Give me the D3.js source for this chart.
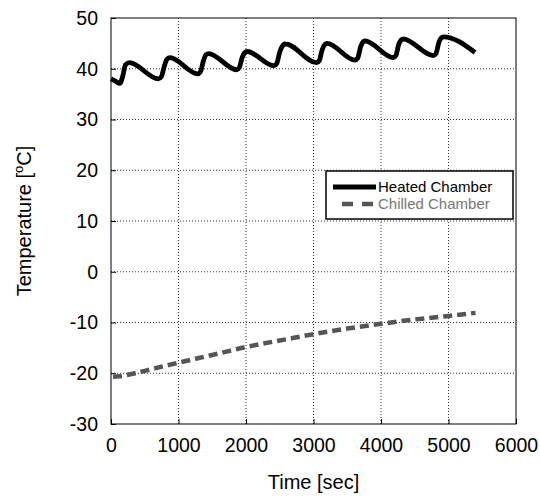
<!DOCTYPE html>
<html>
<head>
<meta charset="utf-8">
<script src="https://cdn.jsdelivr.net/npm/d3@7"></script>
<style>
  body { margin: 0; background: #fff; }
  svg { display: block; font-family: Arial, "Liberation Sans", sans-serif; }
</style>
</head>
<body>
<div id="chart"></div>
<script>
// time (sec) and temperature (°C)
const heatedTime = [0, 60, 130, 175, 215, 275, 700, 745, 790, 830, 874, 1284, 1325, 1370, 1410, 1445,
  1862, 1900, 1945, 1985, 2015, 2415, 2455, 2500, 2545, 2580, 3047, 3085, 3130, 3170, 3200,
  3615, 3655, 3700, 3735, 3760, 4183, 4220, 4265, 4300, 4325, 4775, 4815, 4860, 4895, 4925, 5393];
const heatedTemp = [38.0, 37.6, 37.1, 38.6, 40.8, 41.2, 38.0, 38.4, 40.5, 41.9, 42.2, 39.0, 39.4, 41.6, 42.8, 43.0,
  39.8, 40.2, 42.3, 43.2, 43.4, 40.6, 41.0, 43.3, 44.6, 44.9, 41.2, 41.6, 43.8, 44.8, 45.0,
  41.7, 42.1, 44.4, 45.3, 45.5, 42.2, 42.6, 44.9, 45.7, 45.9, 42.6, 43.0, 45.3, 46.1, 46.3, 43.2];

const chilledTime = [30, 120, 356, 600, 973, 1500, 2010, 2600, 3000, 3500, 4035, 4500, 5010, 5400];
const chilledTemp = [-20.7, -20.6, -20.0, -19.2, -18.0, -16.4, -14.8, -13.3, -12.3, -11.2, -10.2, -9.4, -8.7, -8.1];

const xTicks = [0, 1000, 2000, 3000, 4000, 5000, 6000];
const yTicks = [-30, -20, -10, 0, 10, 20, 30, 40, 50];

const seriesNames = ["Heated Chamber", "Chilled Chamber"];

const width = 540;
const height = 497;
const margin = { top: 18, right: 24, bottom: 73, left: 111 };

const svg = d3.select("#chart").append("svg")
  .attr("width", width)
  .attr("height", height);

const x = d3.scaleLinear().domain([0, 6000]).range([margin.left, width - margin.right]);
const y = d3.scaleLinear().domain([-30, 50]).range([height - margin.bottom, margin.top]);

// plain ascii labels, no thousands separator
const fmt = (d) => String(d);

// grid
const gGrid = svg.append("g");
gGrid.selectAll(".gx")
  .data(xTicks.slice(1, -1))
  .join("line")
  .attr("x1", (d) => x(d)).attr("x2", (d) => x(d))
  .attr("y1", y(-30)).attr("y2", y(50))
  .attr("stroke", "#333").attr("stroke-width", 1).attr("stroke-dasharray", "1,2");
gGrid.selectAll(".gy")
  .data(yTicks.slice(1, -1))
  .join("line")
  .attr("y1", (d) => y(d)).attr("y2", (d) => y(d))
  .attr("x1", x(0)).attr("x2", x(6000))
  .attr("stroke", "#333").attr("stroke-width", 1).attr("stroke-dasharray", "1,2");

// axes
svg.append("g")
  .attr("transform", `translate(0,${y(-30)})`)
  .call(d3.axisBottom(x).tickValues(xTicks).tickFormat(fmt).tickSize(-5).tickPadding(14))
  .call((g) => g.select(".domain").remove())
  .call((g) => g.selectAll("text").attr("font-size", 19.5).attr("font-family", null).attr("fill", "#000"));

svg.append("g")
  .attr("transform", `translate(${x(0)},0)`)
  .call(d3.axisLeft(y).tickValues(yTicks).tickFormat(fmt).tickSize(-5).tickPadding(13))
  .call((g) => g.select(".domain").remove())
  .call((g) => g.selectAll("text").attr("font-size", 19.5).attr("font-family", null).attr("fill", "#000"));

// frame
svg.append("rect")
  .attr("x", x(0)).attr("y", y(50))
  .attr("width", x(6000) - x(0)).attr("height", y(-30) - y(50))
  .attr("fill", "none").attr("stroke", "#000").attr("stroke-width", 1);

// lines
const line = d3.line()
  .x((d) => x(d[0]))
  .y((d) => y(d[1]))
  .curve(d3.curveMonotoneX);

svg.append("path")
  .datum(heatedTime.map((t, i) => [t, heatedTemp[i]]))
  .attr("fill", "none")
  .attr("stroke", "#000")
  .attr("stroke-width", 4.8)
  .attr("stroke-linejoin", "round")
  .attr("d", line);

svg.append("path")
  .datum(chilledTime.map((t, i) => [t, chilledTemp[i]]))
  .attr("fill", "none")
  .attr("stroke", "#555")
  .attr("stroke-width", 4.5)
  .attr("stroke-dasharray", "9,5")
  .attr("d", line);

// axis titles
svg.append("text")
  .attr("x", (x(0) + x(6000)) / 2)
  .attr("y", 489)
  .attr("text-anchor", "middle")
  .attr("font-size", 20)
  .text("Time [sec]");

const yTitle = svg.append("text")
  .attr("transform", `translate(31,${(y(50) + y(-30)) / 2}) rotate(-90)`)
  .attr("text-anchor", "middle")
  .attr("font-size", 20);
yTitle.append("tspan").text("Temperature [");
yTitle.append("tspan").attr("font-size", 13).attr("dy", "-0.6em").text("o");
yTitle.append("tspan").attr("dy", "0.4em").text("C]");

// legend
const legend = svg.append("g").attr("transform", "translate(326,171)");
legend.append("rect")
  .attr("width", 187).attr("height", 48)
  .attr("fill", "#fff").attr("stroke", "#000").attr("stroke-width", 1.5);

const legendStyles = [
  { stroke: "#000", dash: null, text: "#000" },
  { stroke: "#555", dash: "11,9", text: "#777" },
];
const item = legend.selectAll(".item")
  .data(seriesNames)
  .join("g")
  .attr("transform", (d, i) => `translate(0,${16 + i * 17})`);
item.append("line")
  .attr("x1", (d, i) => (i === 0 ? 7 : 16)).attr("x2", 50)
  .attr("stroke", (d, i) => legendStyles[i].stroke)
  .attr("stroke-width", (d, i) => (i === 0 ? 5 : 4.5))
  .attr("stroke-dasharray", (d, i) => legendStyles[i].dash);
item.append("text")
  .attr("x", 52)
  .attr("dy", "0.36em")
  .attr("font-size", 15)
  .attr("fill", (d, i) => legendStyles[i].text)
  .text((d) => d);
</script>
</body>
</html>
